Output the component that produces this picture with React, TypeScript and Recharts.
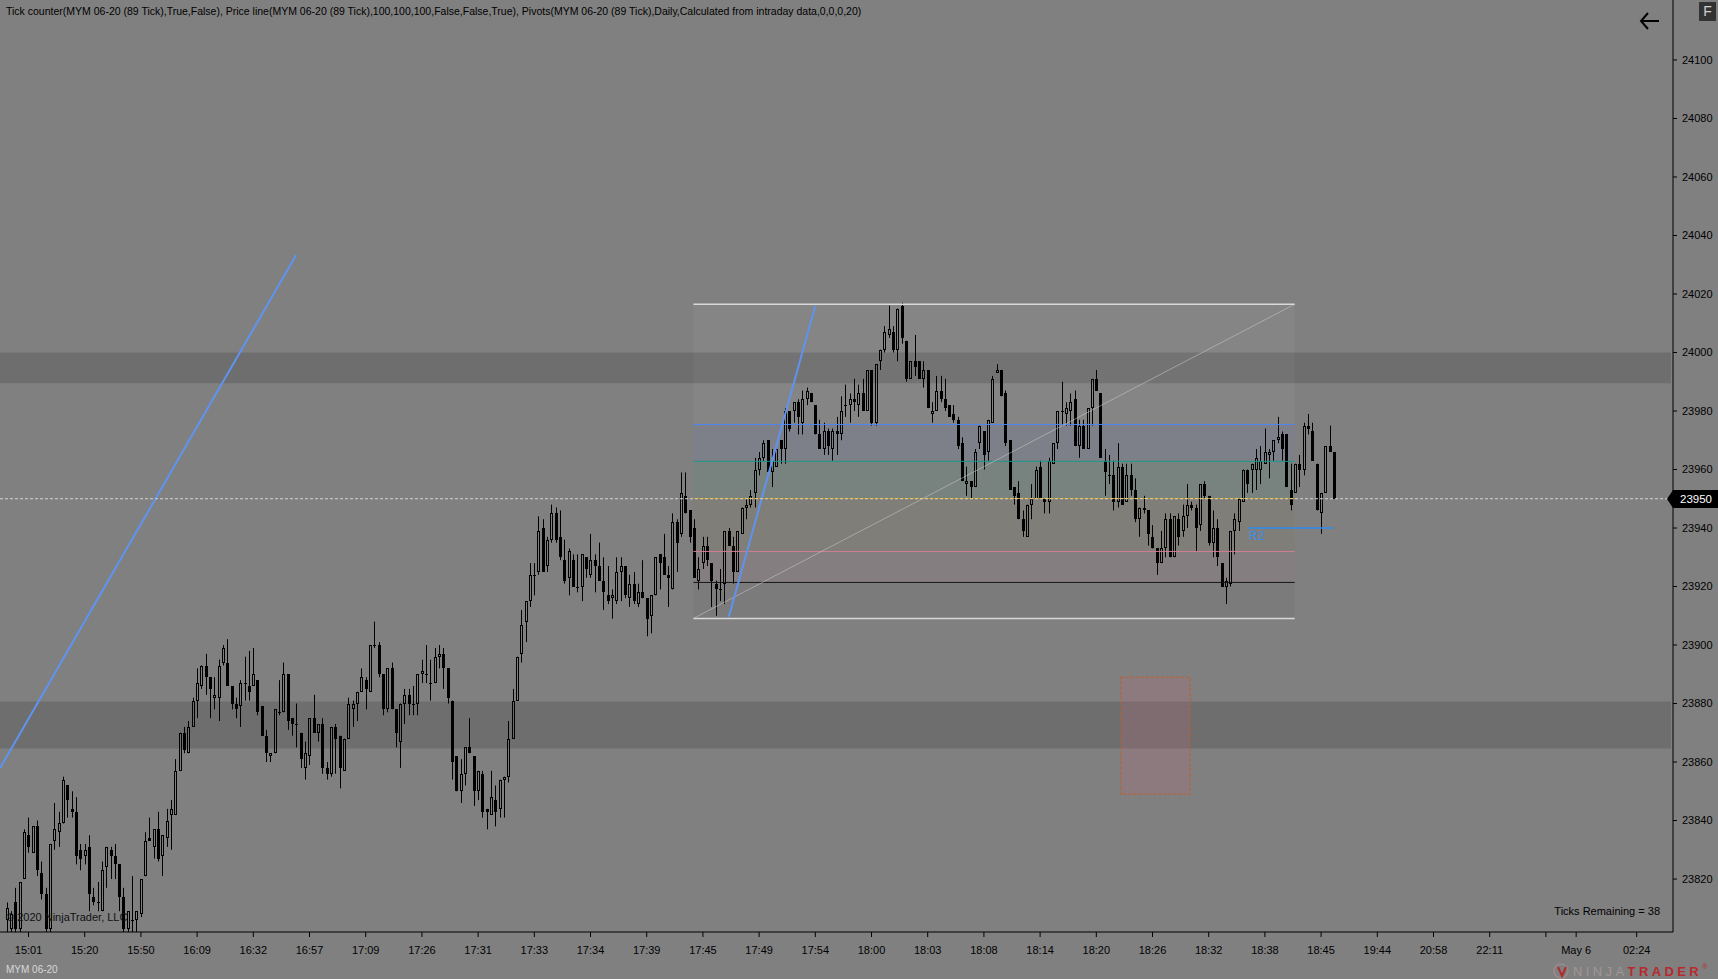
import React from "react"
import {
  ComposedChart,
  Bar,
  XAxis,
  YAxis,
  ReferenceArea,
  ReferenceLine,
} from "recharts"

const FONT = "'Liberation Sans', Arial, sans-serif"

// MYM 06-20, 89 tick bars (oldest first)
const opens = [
  23806, 23803, 23812, 23803, 23820, 23835, 23829, 23838, 23822, 23815,
  23803, 23833, 23836, 23839, 23852, 23844, 23843, 23830, 23828, 23831,
  23814, 23812, 23809, 23824, 23830, 23828, 23825, 23814, 23803, 23806,
  23806, 23808, 23821, 23834, 23831, 23837, 23828, 23834, 23842, 23842,
  23857, 23870, 23863, 23872, 23881, 23886, 23893, 23889, 23882, 23882,
  23894, 23894, 23886, 23880, 23879, 23887, 23886, 23886, 23888, 23879,
  23869, 23862, 23863, 23877, 23877, 23890, 23875, 23873, 23870, 23858,
  23862, 23875, 23870, 23873, 23858, 23856, 23872, 23869, 23857, 23868,
  23878, 23880, 23884, 23888, 23884, 23900, 23900, 23890, 23878, 23892,
  23878, 23867, 23880, 23883, 23880, 23880, 23890, 23890, 23887, 23887,
  23896, 23897, 23892, 23881, 23862, 23850, 23856, 23865, 23862, 23850,
  23856, 23844, 23842, 23847, 23844, 23854, 23855, 23868, 23881, 23897,
  23908, 23915, 23924, 23925, 23940, 23927, 23936, 23945, 23937, 23929,
  23923, 23929, 23920, 23920, 23930, 23924, 23929, 23927, 23922, 23917,
  23916, 23915, 23925, 23927, 23916, 23921, 23914, 23918, 23916, 23910,
  23917, 23931, 23930, 23924, 23919, 23942, 23938, 23951, 23946, 23940,
  23922, 23928, 23934, 23928, 23921, 23919, 23921, 23939, 23934, 23925,
  23938, 23947, 23948, 23952, 23960, 23964, 23970, 23959, 23961, 23970,
  23967, 23980, 23980, 23983, 23976, 23984, 23986, 23982, 23972, 23967,
  23973, 23967, 23973, 23972, 23982, 23982, 23984, 23982, 23986, 23980,
  23994, 23976, 23997, 24001, 24006, 24007, 24001, 24016, 24004, 23991,
  23997, 23997, 23991, 23994, 23979, 23980, 23987, 23984, 23982, 23979,
  23977, 23969, 23955, 23956, 23954, 23969, 23973, 23966, 23976, 23993,
  23994, 23986, 23970, 23954, 23952, 23943, 23937, 23948, 23950, 23961,
  23950, 23949, 23962, 23969, 23980, 23979, 23980, 23984, 23968, 23975,
  23967, 23981, 23991, 23986, 23963, 23958, 23958, 23949, 23961, 23949,
  23958, 23953, 23943, 23947, 23946, 23937, 23933, 23928, 23933, 23943,
  23930, 23943, 23939, 23944, 23948, 23947, 23941, 23955, 23951, 23935,
  23940, 23928, 23920, 23921, 23939, 23942, 23949, 23960, 23960, 23960,
  23960, 23962, 23965, 23966, 23970, 23972, 23972, 23953, 23952, 23962,
  23960, 23975, 23973, 23962, 23945, 23952, 23968, 23966,
]

const highs = [
  23812, 23809, 23817, 23819, 23837, 23841, 23838, 23840, 23826, 23817,
  23832, 23846, 23843, 23855, 23852, 23850, 23848, 23832, 23832, 23835,
  23817, 23819, 23826, 23831, 23831, 23832, 23825, 23817, 23809, 23821,
  23809, 23820, 23836, 23841, 23837, 23843, 23835, 23844, 23847, 23861,
  23870, 23872, 23874, 23882, 23892, 23893, 23897, 23889, 23889, 23895,
  23900, 23902, 23886, 23882, 23888, 23896, 23898, 23899, 23888, 23879,
  23871, 23863, 23878, 23888, 23894, 23890, 23875, 23880, 23870, 23867,
  23875, 23883, 23873, 23875, 23860, 23872, 23873, 23869, 23868, 23882,
  23881, 23884, 23892, 23889, 23900, 23908, 23901, 23890, 23892, 23894,
  23878, 23880, 23885, 23885, 23886, 23890, 23895, 23900, 23895, 23899,
  23900, 23899, 23892, 23881, 23862, 23861, 23865, 23875, 23862, 23857,
  23857, 23844, 23857, 23852, 23854, 23855, 23874, 23885, 23896, 23912,
  23915, 23928, 23928, 23944, 23943, 23937, 23948, 23947, 23946, 23936,
  23933, 23931, 23931, 23931, 23930, 23938, 23931, 23935, 23930, 23927,
  23919, 23930, 23930, 23927, 23924, 23925, 23921, 23929, 23916, 23917,
  23930, 23931, 23938, 23927, 23945, 23943, 23959, 23959, 23946, 23943,
  23930, 23937, 23937, 23928, 23922, 23926, 23939, 23940, 23937, 23939,
  23947, 23950, 23953, 23964, 23966, 23970, 23970, 23967, 23967, 23970,
  23981, 23980, 23983, 23984, 23987, 23988, 23986, 23982, 23977, 23976,
  23974, 23974, 23978, 23985, 23989, 23986, 23991, 23989, 23991, 23994,
  23994, 23996, 24001, 24009, 24016, 24009, 24015, 24017, 24004, 23997,
  24006, 23997, 23997, 23994, 23983, 23992, 23992, 23991, 23982, 23982,
  23978, 23971, 23961, 23956, 23967, 23975, 23973, 23977, 23992, 23996,
  23994, 23987, 23970, 23954, 23956, 23946, 23948, 23955, 23961, 23963,
  23950, 23964, 23969, 23980, 23990, 23983, 23986, 23987, 23977, 23977,
  23981, 23991, 23994, 23986, 23967, 23965, 23963, 23969, 23962, 23962,
  23962, 23957, 23947, 23951, 23946, 23941, 23933, 23939, 23945, 23945,
  23944, 23945, 23948, 23955, 23949, 23948, 23955, 23956, 23951, 23946,
  23943, 23928, 23923, 23939, 23945, 23950, 23960, 23960, 23962, 23967,
  23968, 23974, 23967, 23970, 23978, 23973, 23972, 23962, 23962, 23965,
  23976, 23979, 23976, 23962, 23952, 23968, 23975, 23966,
]

const lows = [
  23800, 23800, 23800, 23800, 23820, 23829, 23829, 23821, 23813, 23800,
  23800, 23830, 23831, 23839, 23841, 23841, 23825, 23823, 23825, 23809,
  23811, 23809, 23809, 23817, 23820, 23820, 23809, 23800, 23800, 23801,
  23801, 23807, 23821, 23833, 23827, 23826, 23821, 23831, 23830, 23842,
  23857, 23863, 23863, 23872, 23875, 23885, 23883, 23875, 23878, 23874,
  23893, 23886, 23878, 23875, 23872, 23881, 23881, 23886, 23876, 23869,
  23860, 23860, 23863, 23876, 23877, 23871, 23869, 23865, 23858, 23854,
  23859, 23870, 23867, 23856, 23854, 23855, 23856, 23851, 23857, 23868,
  23872, 23874, 23884, 23878, 23884, 23899, 23889, 23876, 23877, 23878,
  23865, 23858, 23873, 23876, 23876, 23876, 23887, 23887, 23881, 23887,
  23892, 23885, 23880, 23854, 23850, 23846, 23852, 23863, 23845, 23847,
  23841, 23837, 23842, 23838, 23841, 23841, 23853, 23868, 23881, 23894,
  23901, 23913, 23917, 23924, 23925, 23925, 23935, 23935, 23929, 23921,
  23917, 23920, 23918, 23915, 23923, 23923, 23918, 23922, 23912, 23914,
  23909, 23914, 23915, 23916, 23913, 23914, 23913, 23916, 23903, 23904,
  23917, 23919, 23924, 23913, 23919, 23925, 23937, 23945, 23935, 23923,
  23919, 23926, 23927, 23913, 23910, 23915, 23914, 23934, 23921, 23925,
  23938, 23943, 23947, 23947, 23958, 23963, 23958, 23954, 23961, 23962,
  23962, 23973, 23976, 23972, 23972, 23982, 23983, 23972, 23967, 23965,
  23965, 23963, 23965, 23970, 23978, 23976, 23980, 23978, 23980, 23980,
  23975, 23975, 23994, 24000, 24005, 24000, 23997, 24003, 23990, 23991,
  23992, 23991, 23988, 23981, 23976, 23980, 23983, 23980, 23978, 23976,
  23967, 23956, 23951, 23950, 23954, 23967, 23960, 23963, 23976, 23993,
  23985, 23968, 23953, 23948, 23943, 23937, 23937, 23943, 23950, 23950,
  23945, 23945, 23962, 23967, 23975, 23975, 23975, 23968, 23964, 23967,
  23967, 23975, 23987, 23964, 23951, 23955, 23946, 23947, 23948, 23949,
  23951, 23942, 23937, 23945, 23934, 23933, 23924, 23928, 23930, 23930,
  23930, 23934, 23937, 23940, 23946, 23932, 23939, 23950, 23934, 23930,
  23927, 23920, 23914, 23920, 23931, 23939, 23949, 23952, 23952, 23953,
  23955, 23962, 23957, 23963, 23969, 23963, 23954, 23946, 23952, 23954,
  23958, 23972, 23963, 23946, 23938, 23952, 23966, 23950,
]

const closes = [
  23810, 23808, 23803, 23819, 23836, 23831, 23838, 23823, 23815, 23803,
  23832, 23837, 23839, 23854, 23847, 23843, 23828, 23827, 23830, 23815,
  23812, 23812, 23823, 23831, 23828, 23825, 23814, 23803, 23809, 23806,
  23809, 23820, 23833, 23833, 23837, 23827, 23835, 23840, 23844, 23857,
  23870, 23864, 23872, 23881, 23887, 23893, 23889, 23885, 23883, 23893,
  23899, 23886, 23880, 23878, 23887, 23887, 23884, 23890, 23877, 23869,
  23863, 23863, 23878, 23877, 23890, 23874, 23873, 23873, 23861, 23863,
  23875, 23870, 23873, 23858, 23856, 23872, 23868, 23858, 23868, 23880,
  23880, 23884, 23889, 23885, 23900, 23900, 23890, 23878, 23892, 23878,
  23870, 23880, 23883, 23880, 23880, 23890, 23891, 23890, 23887, 23896,
  23897, 23892, 23882, 23860, 23850, 23856, 23865, 23863, 23850, 23857,
  23843, 23843, 23848, 23843, 23854, 23855, 23868, 23881, 23896, 23907,
  23915, 23924, 23924, 23939, 23925, 23936, 23945, 23936, 23930, 23922,
  23932, 23920, 23920, 23931, 23926, 23929, 23927, 23922, 23918, 23915,
  23917, 23925, 23927, 23917, 23921, 23915, 23918, 23916, 23909, 23917,
  23930, 23928, 23924, 23923, 23942, 23935, 23952, 23945, 23937, 23923,
  23926, 23934, 23929, 23922, 23919, 23919, 23939, 23934, 23925, 23939,
  23947, 23948, 23951, 23960, 23964, 23969, 23959, 23963, 23967, 23967,
  23980, 23974, 23983, 23978, 23984, 23987, 23983, 23972, 23967, 23973,
  23968, 23973, 23972, 23980, 23982, 23984, 23983, 23986, 23980, 23994,
  23976, 23996, 24001, 24007, 24008, 24001, 24015, 24005, 23991, 23997,
  23995, 23991, 23994, 23981, 23980, 23987, 23984, 23981, 23978, 23977,
  23968, 23956, 23956, 23954, 23966, 23975, 23965, 23977, 23991, 23994,
  23985, 23969, 23953, 23951, 23943, 23939, 23948, 23950, 23960, 23950,
  23949, 23963, 23969, 23980, 23980, 23981, 23983, 23968, 23975, 23967,
  23981, 23991, 23987, 23964, 23959, 23958, 23949, 23961, 23948, 23958,
  23953, 23943, 23947, 23946, 23938, 23933, 23928, 23933, 23943, 23930,
  23944, 23937, 23944, 23948, 23947, 23940, 23955, 23951, 23935, 23940,
  23930, 23920, 23922, 23939, 23943, 23950, 23960, 23955, 23962, 23964,
  23963, 23966, 23966, 23970, 23971, 23967, 23954, 23948, 23962, 23960,
  23975, 23974, 23963, 23946, 23952, 23968, 23966, 23950,
]

// time axis: bar index -> label
const timeTickBars = [
  5, 18, 31, 44, 57, 70, 83, 96, 109, 122, 135, 148, 161, 174, 187,
  200, 213, 226, 239, 252, 265, 278, 291, 304, 317, 330, 343, 356, 363, 377,
]
const timeTickLabels = [
  "15:01", "15:20", "15:50", "16:09", "16:32", "16:57", "17:09", "17:26",
  "17:31", "17:33", "17:34", "17:39", "17:45", "17:49", "17:54", "18:00",
  "18:03", "18:08", "18:14", "18:20", "18:26", "18:32", "18:38", "18:45",
  "19:44", "20:58", "22:11", "", "May 6", "02:24",
]

const priceTicks = [
  23820, 23840, 23860, 23880, 23900, 23920, 23940, 23960, 23980,
  24000, 24020, 24040, 24060, 24080, 24100,
]

// drawing objects (bar index / price)
const zoneBands = [
  [23989.5, 24000],
  [23864.6, 23880.7],
]
const fibLevels = [24016.5, 23975.4, 23962.8, 23950.1, 23932.0, 23921.4, 23909.1]
const fibStart = 158.8
const fibEnd = 297.9
const trendLines = [
  [{ x: -1.6, y: 23857.9 }, { x: 66.9, y: 24033.3 }],
  [{ x: 167, y: 23909.7 }, { x: 187, y: 24016 }],
]
const pivotR2 = { from: 287.1, to: 306.8, price: 23940 }
const noteBox = { x1: 257.7, x2: 273.7, y1: 23849, y2: 23889 }
const lastPrice = 23950

const xDomain = [-1.6, 385.4]
const yDomain = [23801.9, 24120.5]

const fibLineColors = ["#d9d9d9", "#4f86f7", "#17998a", "#c8960a", "#d27f93", "#151515", "#d9d9d9"]
const fibZoneFill = [
  { fill: "#ffffff", opacity: 0.04 },
  { fill: "#7e8089", opacity: 1 },
  { fill: "#78837f", opacity: 1 },
  { fill: "#7f7e78", opacity: 1 },
  { fill: "#857e80", opacity: 1 },
  { fill: "#000000", opacity: 0.04 },
]

const n = Math.min(opens.length, highs.length, lows.length, closes.length)
const candles = opens.slice(0, n).map((o, i) => ({
  i,
  open: o,
  high: highs[i],
  low: lows[i],
  close: closes[i],
  range: [lows[i], highs[i]],
}))

function Candle(props: any) {
  const { x, y, width, height } = props
  const d = props.payload ?? props
  if (x == null || y == null || !d || d.high == null) return null
  const top = Math.min(y, y + height)
  const h = Math.abs(height)
  const span = d.high - d.low
  if (span <= 0) return null
  const k = h / span
  const cx = Math.round(x + width / 2)
  const yOf = (p: number) => top + (d.high - p) * k
  const yo = yOf(d.open)
  const yc = yOf(d.close)
  const bTop = Math.round(Math.min(yo, yc))
  const bBot = Math.round(Math.max(yo, yc))
  const wx = cx + 0.5

  if (bBot - bTop < 1) {
    return (
      <g>
        <line x1={wx} x2={wx} y1={top} y2={top + h} stroke="#000" strokeWidth={1} />
        <line x1={cx - 1} x2={cx + 2} y1={bTop + 0.5} y2={bTop + 0.5} stroke="#000" strokeWidth={1} />
      </g>
    )
  }
  if (d.close < d.open) {
    return (
      <g>
        <line x1={wx} x2={wx} y1={top} y2={top + h} stroke="#000" strokeWidth={1} />
        <rect x={cx - 1} y={bTop} width={3} height={bBot - bTop} fill="#000" />
      </g>
    )
  }
  return (
    <g>
      <line x1={wx} x2={wx} y1={top} y2={bTop} stroke="#000" strokeWidth={1} />
      <line x1={wx} x2={wx} y1={bBot} y2={top + h} stroke="#000" strokeWidth={1} />
      <rect
        x={cx - 0.5}
        y={bTop + 0.5}
        width={2}
        height={Math.max(1, bBot - bTop - 1)}
        fill="none"
        stroke="#000"
        strokeWidth={1}
      />
    </g>
  )
}

function TimeTick(props: any) {
  const { x, y, payload } = props
  const idx = timeTickBars.indexOf(payload.value)
  const label = idx >= 0 ? timeTickLabels[idx] : ""
  return (
    <text x={x} y={y + 7} dy="0.71em" textAnchor="middle" fontSize={11} fill="#000" fontFamily={FONT}>
      {label}
    </text>
  )
}

function PriceTag(props: any) {
  const vb = props.viewBox || {}
  const xr = (vb.x ?? 0) + (vb.width ?? 0)
  const y = Math.round(vb.y ?? 0)
  return (
    <g>
      <polygon
        points={`${xr - 6},${y} ${xr},${y - 9} ${xr + 46},${y - 9} ${xr + 46},${y + 9} ${xr},${y + 9}`}
        fill="#000"
      />
      <text x={xr + 23} y={y} dy="0.36em" textAnchor="middle" fill="#fff" fontSize={11.5} fontFamily={FONT}>
        {props.text}
      </text>
    </g>
  )
}

function R2Label(props: any) {
  const vb = props.viewBox || {}
  return (
    <text x={(vb.x ?? 0) + 1} y={(vb.y ?? 0) + 12} fill="#3a8ced" fontSize={12} fontFamily={FONT}>
      R2
    </text>
  )
}

export default function App() {
  return (
    <div style={{ position: "relative", width: 1718, height: 979, background: "#808080", overflow: "hidden" }}>
      <style>{`body{margin:0;background:#808080}`}</style>

      <ComposedChart
        width={1718}
        height={979}
        data={candles}
        margin={{ top: 0, right: 0, bottom: 0, left: 0 }}
      >
        <XAxis
          type="number"
          dataKey="i"
          domain={xDomain}
          allowDataOverflow
          ticks={timeTickBars}
          interval={0}
          height={47}
          tickSize={5}
          axisLine={{ stroke: "#000" }}
          tickLine={{ stroke: "#000" }}
          tick={<TimeTick />}
        />
        <YAxis
          orientation="right"
          width={45}
          domain={yDomain}
          allowDataOverflow
          ticks={priceTicks}
          interval={0}
          tickSize={4}
          tickMargin={5}
          axisLine={{ stroke: "#000" }}
          tickLine={{ stroke: "#000" }}
          tick={{ fill: "#000", fontSize: 11, fontFamily: FONT }}
        />

        {zoneBands.map(([lo, hi], k) => (
          <ReferenceArea
            key={"band" + k}
            x1={xDomain[0]}
            x2={384.9}
            y1={lo}
            y2={hi}
            fill="#6e6e6e"
            fillOpacity={1}
            stroke="none"
          />
        ))}

        {fibZoneFill.map((z, k) => (
          <ReferenceArea
            key={"fibz" + k}
            x1={fibStart}
            x2={fibEnd}
            y1={fibLevels[k + 1]}
            y2={fibLevels[k]}
            fill={z.fill}
            fillOpacity={z.opacity}
            stroke="none"
          />
        ))}

        <ReferenceArea
          x1={noteBox.x1}
          x2={noteBox.x2}
          y1={noteBox.y1}
          y2={noteBox.y2}
          fill="#b0667a"
          fillOpacity={0.25}
          stroke="#c0602a"
          strokeDasharray="3 2"
          strokeWidth={1}
        />

        <Bar dataKey="range" barSize={4} shape={<Candle />} isAnimationActive={false} />

        {fibLevels.map((lv, k) => (
          <ReferenceLine
            key={"fibl" + k}
            segment={[{ x: fibStart, y: lv }, { x: fibEnd, y: lv }]}
            stroke={fibLineColors[k]}
            strokeWidth={k === 0 || k === fibLevels.length - 1 ? 1.5 : 1}
          />
        ))}
        <ReferenceLine
          segment={[{ x: fibStart, y: fibLevels[fibLevels.length - 1] }, { x: fibEnd, y: fibLevels[0] }]}
          stroke="#c8c8c8"
          strokeOpacity={0.55}
          strokeWidth={1}
        />

        {trendLines.map((seg, k) => (
          <ReferenceLine
            key={"tl" + k}
            segment={seg}
            stroke="#5f93f0"
            strokeWidth={2}
            ifOverflow="hidden"
          />
        ))}

        <ReferenceLine
          segment={[{ x: pivotR2.from, y: pivotR2.price }, { x: pivotR2.to, y: pivotR2.price }]}
          stroke="#2b8cf0"
          strokeWidth={1.5}
          label={<R2Label />}
        />

        <ReferenceLine
          y={lastPrice}
          stroke="#d4d4d4"
          strokeDasharray="3 2"
          strokeWidth={1}
          label={<PriceTag text={String(lastPrice)} />}
        />
      </ComposedChart>

      <div
        style={{
          position: "absolute",
          left: 6,
          top: 5,
          fontFamily: FONT,
          fontSize: 10.5,
          color: "#000",
          whiteSpace: "nowrap",
        }}
      >
        Tick counter(MYM 06-20 (89 Tick),True,False), Price line(MYM 06-20 (89 Tick),100,100,100,False,False,True), Pivots(MYM 06-20 (89 Tick),Daily,Calculated from intraday data,0,0,0,20)
      </div>

      <svg style={{ position: "absolute", left: 1638, top: 10 }} width={24} height={22}>
        <polyline points="10,3 3,11 10,19" fill="none" stroke="#000" strokeWidth={2} />
        <line x1={3} y1={11} x2={21} y2={11} stroke="#000" strokeWidth={2} />
      </svg>

      <div
        style={{
          position: "absolute",
          left: 1699,
          top: 2,
          width: 17,
          height: 19,
          background: "#333",
          color: "#d0d0d0",
          fontFamily: FONT,
          fontSize: 14,
          lineHeight: "19px",
          textAlign: "center",
        }}
      >
        F
      </div>

      <div
        style={{
          position: "absolute",
          right: 58,
          top: 905,
          fontFamily: FONT,
          fontSize: 11,
          color: "#000",
          whiteSpace: "nowrap",
        }}
      >
        Ticks Remaining = 38
      </div>

      <div
        style={{
          position: "absolute",
          left: 6,
          top: 911,
          fontFamily: FONT,
          fontSize: 11,
          color: "#111",
          whiteSpace: "nowrap",
        }}
      >
        © 2020 NinjaTrader, LLC
      </div>

      <div
        style={{
          position: "absolute",
          left: 6,
          top: 964,
          fontFamily: FONT,
          fontSize: 10,
          color: "#d8d8d8",
          whiteSpace: "nowrap",
        }}
      >
        MYM 06-20
      </div>

      <div
        style={{
          position: "absolute",
          left: 1552,
          top: 963,
          height: 16,
          fontFamily: FONT,
          fontSize: 13,
          letterSpacing: 3.4,
          whiteSpace: "nowrap",
          display: "flex",
          alignItems: "center",
        }}
      >
        <svg width={20} height={16} style={{ marginRight: 1 }}>
          <circle cx={9} cy={8} r={7} fill="none" stroke="#9a8a8a" strokeWidth={1.5} />
          <path d="M6 4 L10 13 L14 4" fill="none" stroke="#b22a2a" strokeWidth={2} />
        </svg>
        <span style={{ color: "#a09696" }}>NINJA</span>
        <span style={{ color: "#b82a2e", fontWeight: 600 }}>TRADER</span>
        <span style={{ color: "#b82a2e", fontSize: 7, letterSpacing: 0, alignSelf: "flex-start" }}>®</span>
      </div>
    </div>
  )
}
